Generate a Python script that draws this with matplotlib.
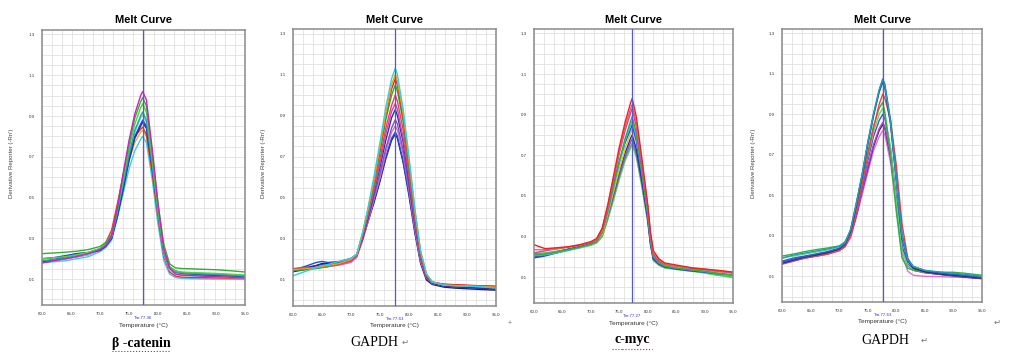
import matplotlib
matplotlib.use('Agg')
import matplotlib.pyplot as plt
from matplotlib.lines import Line2D

plt.rcParams['font.family'] = ['Liberation Sans', 'DejaVu Sans']

W, H = 1023, 352

# ---------------- data ----------------
x_ticks = [60, 65, 70, 75, 80, 85, 90, 95]
x_tick_labels = ['60.0', '65.0', '70.0', '75.0', '80.0', '85.0', '90.0', '95.0']
y_ticks = [0.1, 0.3, 0.5, 0.7, 0.9, 1.1, 1.3]
y_tick_labels = ['0.1', '0.3', '0.5', '0.7', '0.9', '1.1', '1.3']

gene_labels = ['\u03b2 -catenin', 'GAPDH', 'c-myc', 'GAPDH']
tm_values = [77.36, 77.63, 77.27, 77.63]

# Panel 1: beta-catenin
temps_bcat = [60, 62, 64, 66, 68, 70, 71, 72, 73, 74, 75, 76, 77, 77.36, 78, 79, 80, 81, 82, 83, 84, 86, 88, 90, 92, 95]
bcat_magenta = [0.18,0.19,0.20,0.21,0.225,0.245,0.265,0.31,0.45,0.62,0.78,0.91,1.00,1.02,0.98,0.74,0.47,0.25,0.155,0.125,0.12,0.117,0.114,0.112,0.11,0.105]
bcat_green = [0.225,0.228,0.232,0.237,0.245,0.26,0.28,0.32,0.45,0.61,0.76,0.89,0.97,0.99,0.95,0.72,0.47,0.27,0.175,0.155,0.152,0.15,0.148,0.146,0.142,0.135]
bcat_lime = [0.20,0.205,0.21,0.22,0.232,0.25,0.27,0.31,0.44,0.59,0.74,0.86,0.94,0.96,0.92,0.69,0.44,0.24,0.16,0.14,0.135,0.132,0.13,0.128,0.125,0.12]
bcat_teal = [0.19,0.195,0.205,0.215,0.23,0.25,0.27,0.31,0.43,0.57,0.71,0.83,0.90,0.92,0.88,0.66,0.42,0.23,0.155,0.135,0.13,0.127,0.125,0.123,0.12,0.115]
bcat_blue = [0.20,0.205,0.215,0.225,0.228,0.24,0.26,0.30,0.41,0.55,0.69,0.80,0.86,0.88,0.85,0.65,0.42,0.23,0.155,0.135,0.128,0.124,0.12,0.118,0.116,0.112]
bcat_navy = [0.185,0.195,0.21,0.225,0.23,0.245,0.265,0.30,0.41,0.54,0.68,0.79,0.85,0.87,0.84,0.65,0.43,0.24,0.16,0.14,0.132,0.128,0.125,0.122,0.12,0.115]
bcat_red = [0.18,0.19,0.20,0.21,0.22,0.245,0.28,0.34,0.47,0.61,0.72,0.80,0.835,0.845,0.81,0.62,0.40,0.21,0.135,0.115,0.11,0.108,0.107,0.106,0.105,0.105]
bcat_orange = [0.19,0.195,0.20,0.21,0.22,0.24,0.265,0.31,0.43,0.56,0.68,0.77,0.82,0.83,0.80,0.62,0.40,0.22,0.145,0.125,0.12,0.118,0.116,0.115,0.114,0.112]
bcat_cyan = [0.18,0.185,0.19,0.20,0.21,0.235,0.255,0.29,0.40,0.52,0.64,0.73,0.785,0.80,0.77,0.59,0.37,0.19,0.125,0.108,0.104,0.102,0.101,0.10,0.10,0.098]
bcat_lightblue = [0.185,0.19,0.20,0.21,0.22,0.24,0.26,0.30,0.42,0.56,0.70,0.82,0.89,0.905,0.87,0.66,0.42,0.22,0.145,0.125,0.12,0.117,0.115,0.113,0.11,0.105]

# Panel 2: GAPDH (first)
temps_gapdh1 = [60, 62, 64, 65, 66, 68, 70, 71, 72, 73, 74, 75, 76, 77, 77.63, 78, 79, 80, 81, 82, 83, 84, 86, 88, 90, 92, 95]
g1_cyan = [0.12,0.14,0.16,0.17,0.175,0.19,0.205,0.225,0.33,0.46,0.61,0.77,0.94,1.08,1.13,1.10,0.93,0.70,0.45,0.24,0.13,0.09,0.075,0.072,0.07,0.068,0.06]
g1_orange = [0.15,0.155,0.16,0.165,0.17,0.18,0.20,0.225,0.33,0.45,0.59,0.75,0.91,1.05,1.10,1.07,0.91,0.68,0.44,0.24,0.13,0.09,0.075,0.072,0.07,0.068,0.065]
g1_red = [0.15,0.155,0.16,0.165,0.17,0.18,0.20,0.22,0.32,0.45,0.59,0.74,0.90,1.03,1.08,1.05,0.89,0.67,0.43,0.23,0.125,0.09,0.078,0.075,0.072,0.07,0.068]
g1_green = [0.145,0.15,0.155,0.16,0.165,0.18,0.20,0.22,0.32,0.44,0.57,0.72,0.88,1.00,1.05,1.02,0.87,0.65,0.42,0.23,0.125,0.09,0.075,0.072,0.07,0.067,0.063]
g1_red2 = [0.15,0.155,0.16,0.165,0.17,0.18,0.195,0.22,0.31,0.43,0.55,0.69,0.84,0.95,1.00,0.97,0.83,0.62,0.40,0.22,0.12,0.088,0.08,0.077,0.075,0.072,0.07]
g1_magenta = [0.155,0.16,0.16,0.162,0.165,0.175,0.19,0.215,0.31,0.42,0.54,0.67,0.81,0.92,0.96,0.93,0.79,0.60,0.39,0.21,0.12,0.088,0.078,0.075,0.072,0.07,0.067]
g1_navy = [0.15,0.16,0.17,0.175,0.175,0.185,0.20,0.22,0.30,0.41,0.53,0.65,0.78,0.89,0.93,0.90,0.77,0.58,0.38,0.21,0.115,0.085,0.07,0.066,0.063,0.06,0.055]
g1_purple = [0.15,0.155,0.16,0.165,0.17,0.18,0.195,0.22,0.30,0.40,0.51,0.62,0.74,0.84,0.88,0.86,0.73,0.55,0.36,0.20,0.11,0.085,0.07,0.067,0.064,0.062,0.058]
g1_pink = [0.155,0.158,0.16,0.162,0.165,0.172,0.185,0.21,0.29,0.39,0.50,0.60,0.72,0.82,0.85,0.83,0.71,0.54,0.35,0.19,0.11,0.083,0.072,0.07,0.068,0.066,0.063]
g1_blue = [0.15,0.165,0.185,0.19,0.185,0.19,0.205,0.225,0.30,0.39,0.49,0.59,0.70,0.79,0.82,0.80,0.68,0.52,0.34,0.19,0.11,0.083,0.07,0.066,0.063,0.06,0.055]
g1_navy2 = [0.14,0.15,0.17,0.18,0.18,0.185,0.20,0.22,0.30,0.39,0.48,0.58,0.69,0.78,0.81,0.79,0.67,0.51,0.33,0.18,0.10,0.078,0.065,0.06,0.057,0.054,0.05]

# Panel 3: c-myc
temps_myc = [60, 62, 64, 66, 68, 70, 71, 72, 73, 74, 75, 76, 77, 77.27, 78, 79, 80, 80.5, 81, 82, 83, 85, 88, 90, 92, 95]
myc_red = [0.26,0.24,0.245,0.25,0.26,0.275,0.29,0.34,0.46,0.60,0.74,0.86,0.96,0.98,0.89,0.68,0.46,0.32,0.23,0.19,0.17,0.16,0.145,0.14,0.135,0.125]
myc_red2 = [0.235,0.235,0.24,0.248,0.258,0.272,0.285,0.33,0.45,0.59,0.72,0.84,0.93,0.95,0.86,0.66,0.45,0.31,0.22,0.185,0.165,0.155,0.145,0.14,0.132,0.125]
myc_magenta = [0.22,0.23,0.24,0.248,0.256,0.27,0.285,0.33,0.44,0.58,0.71,0.82,0.91,0.93,0.84,0.64,0.44,0.30,0.21,0.18,0.163,0.155,0.143,0.138,0.13,0.122]
myc_green = [0.21,0.215,0.225,0.235,0.248,0.262,0.275,0.32,0.43,0.55,0.67,0.78,0.87,0.89,0.81,0.62,0.42,0.29,0.20,0.17,0.155,0.145,0.135,0.13,0.12,0.11]
myc_cyan = [0.205,0.21,0.22,0.232,0.245,0.26,0.275,0.32,0.42,0.54,0.66,0.77,0.85,0.87,0.79,0.61,0.41,0.28,0.20,0.17,0.155,0.145,0.135,0.128,0.12,0.11]
myc_blue = [0.195,0.205,0.22,0.235,0.25,0.265,0.285,0.34,0.45,0.56,0.67,0.76,0.83,0.85,0.77,0.59,0.40,0.27,0.19,0.165,0.15,0.14,0.13,0.125,0.118,0.11]
myc_yellow = [0.21,0.215,0.225,0.235,0.245,0.26,0.275,0.31,0.41,0.52,0.63,0.73,0.81,0.83,0.77,0.62,0.43,0.30,0.21,0.175,0.16,0.15,0.14,0.132,0.125,0.115]
myc_navy = [0.20,0.21,0.225,0.238,0.25,0.265,0.28,0.32,0.41,0.51,0.62,0.71,0.785,0.80,0.73,0.57,0.39,0.27,0.19,0.165,0.152,0.145,0.135,0.13,0.123,0.115]
myc_purple = [0.21,0.215,0.225,0.235,0.247,0.262,0.275,0.31,0.40,0.50,0.60,0.69,0.765,0.78,0.71,0.56,0.38,0.26,0.19,0.165,0.152,0.145,0.135,0.13,0.122,0.113]
myc_green2 = [0.215,0.22,0.228,0.238,0.248,0.26,0.27,0.30,0.39,0.49,0.59,0.68,0.745,0.76,0.70,0.55,0.38,0.26,0.185,0.16,0.148,0.14,0.13,0.123,0.113,0.10]
myc_lightgreen = [0.20,0.21,0.22,0.232,0.244,0.256,0.268,0.30,0.385,0.48,0.58,0.67,0.735,0.75,0.69,0.54,0.37,0.255,0.18,0.158,0.145,0.138,0.128,0.12,0.11,0.098]

# Panel 4: GAPDH (second)
temps_gapdh2 = [60, 62, 64, 66, 68, 70, 71, 72, 73, 74, 75, 76, 77, 77.63, 78, 79, 80, 81, 82, 83, 85, 88, 90, 92, 95]
g2_teal = [0.19,0.205,0.215,0.225,0.235,0.248,0.265,0.33,0.46,0.60,0.76,0.90,1.02,1.07,1.04,0.86,0.58,0.30,0.18,0.148,0.13,0.12,0.115,0.11,0.10]
g2_blue = [0.17,0.185,0.198,0.21,0.222,0.238,0.26,0.33,0.46,0.60,0.76,0.90,1.02,1.075,1.05,0.87,0.59,0.31,0.185,0.148,0.128,0.115,0.11,0.105,0.095]
g2_navy = [0.165,0.18,0.195,0.205,0.218,0.235,0.258,0.32,0.45,0.59,0.75,0.89,1.01,1.06,1.03,0.85,0.57,0.29,0.175,0.14,0.122,0.11,0.105,0.10,0.09]
g2_red = [0.165,0.18,0.19,0.20,0.21,0.228,0.245,0.30,0.42,0.55,0.70,0.83,0.95,1.00,0.98,0.87,0.65,0.36,0.19,0.14,0.12,0.11,0.105,0.10,0.09]
g2_green = [0.20,0.21,0.222,0.232,0.24,0.25,0.27,0.32,0.44,0.57,0.71,0.84,0.93,0.96,0.91,0.70,0.42,0.19,0.14,0.13,0.122,0.12,0.12,0.115,0.105]
g2_lightgreen = [0.19,0.20,0.21,0.22,0.23,0.245,0.265,0.31,0.43,0.56,0.69,0.81,0.90,0.93,0.90,0.73,0.47,0.23,0.155,0.132,0.12,0.115,0.11,0.105,0.098]
g2_bluemid = [0.175,0.19,0.20,0.21,0.22,0.235,0.26,0.31,0.42,0.54,0.67,0.79,0.87,0.90,0.88,0.73,0.49,0.25,0.16,0.135,0.12,0.11,0.105,0.10,0.092]
g2_magenta = [0.16,0.175,0.19,0.20,0.21,0.228,0.25,0.30,0.40,0.52,0.64,0.75,0.83,0.86,0.84,0.70,0.47,0.24,0.155,0.13,0.118,0.11,0.104,0.098,0.09]
g2_navy2 = [0.165,0.18,0.195,0.205,0.215,0.23,0.255,0.30,0.40,0.52,0.63,0.74,0.82,0.85,0.83,0.69,0.47,0.24,0.155,0.13,0.118,0.108,0.102,0.096,0.088]
g2_pink = [0.16,0.175,0.19,0.20,0.21,0.225,0.245,0.29,0.39,0.50,0.61,0.72,0.79,0.82,0.80,0.66,0.44,0.21,0.125,0.105,0.10,0.098,0.096,0.094,0.09]

panels = [
    (temps_bcat, [(bcat_cyan, '#40c8f0'), (bcat_orange, '#f0b020'), (bcat_red, '#f03030'),
                  (bcat_lightblue, '#80c8f0'), (bcat_navy, '#2a2a90'), (bcat_blue, '#2040e0'),
                  (bcat_teal, '#20a8a0'), (bcat_lime, '#50d040'), (bcat_green, '#30b030'),
                  (bcat_magenta, '#d020c0')]),
    (temps_gapdh1, [(g1_navy2, '#202070'), (g1_blue, '#2050e0'), (g1_pink, '#e070c0'),
                    (g1_purple, '#8050c0'), (g1_navy, '#3030a0'), (g1_magenta, '#d040c0'),
                    (g1_red2, '#e84060'), (g1_green, '#20b040'), (g1_red, '#f02020'),
                    (g1_orange, '#f0a000'), (g1_cyan, '#30d0e0')]),
    (temps_myc, [(myc_lightgreen, '#80d080'), (myc_green2, '#50c050'), (myc_purple, '#8060c0'),
                 (myc_navy, '#303090'), (myc_yellow, '#e8c020'), (myc_blue, '#3040e0'),
                 (myc_cyan, '#30c0d0'), (myc_green, '#30b030'), (myc_magenta, '#c040c0'),
                 (myc_red2, '#f06060'), (myc_red, '#f02020')]),
    (temps_gapdh2, [(g2_pink, '#e070d0'), (g2_navy2, '#302070'), (g2_magenta, '#c040c0'),
                    (g2_bluemid, '#4050e0'), (g2_lightgreen, '#70d070'), (g2_green, '#30b040'),
                    (g2_red, '#f04040'), (g2_navy, '#203080'), (g2_blue, '#2060d0'),
                    (g2_teal, '#20a0b0')]),
]

# ---------------- layout ----------------
fig = plt.figure(figsize=(W / 100, H / 100), dpi=100)
fig.patch.set_facecolor('white')

def fx(x):
    return x / W

def fy(y):
    return 1 - y / H

# (left, right, top, bottom) in pixels
boxes = [(42, 245, 30, 305), (293, 496, 29, 306), (534, 733, 29, 303), (782, 982, 29, 302)]
ylabel_x = [12, 264, None, 754]

for i, ((temps, curves), (l, r, t, b)) in enumerate(zip(panels, boxes)):
    ax = fig.add_axes([fx(l), fy(b), (r - l) / W, (b - t) / H])
    ax.set_xlim(60, 95)
    ax.set_ylim(-0.027, 1.322)
    gx = [60 + k * 1.75 for k in range(21)]
    gy = [k * 0.05 for k in range(27)]
    for g in gx:
        ax.axvline(g, color='#dcdcdc', lw=0.5, zorder=0)
    for g in gy:
        ax.axhline(g, color='#dcdcdc', lw=0.5, zorder=0)
    for vals, col in curves:
        ax.plot(temps, vals, color=col, lw=1.0, zorder=2, solid_joinstyle='round')
    ax.axvline(tm_values[i], color='#5858c8', lw=0.9, zorder=3)
    ax.set_xticks(x_ticks)
    ax.set_xticklabels(x_tick_labels, fontsize=3.2, color='#333333')
    ax.set_yticks(y_ticks)
    ax.set_yticklabels(y_tick_labels, fontsize=3.2, color='#333333')
    ax.tick_params(length=0, pad=5)
    for s in ax.spines.values():
        s.set_color('#8a8a8a')
        s.set_linewidth(1.1)
    cx = (l + r) / 2
    fig.text(fx(cx), fy(20), 'Melt Curve', ha='center', va='center', fontsize=8, fontweight='bold')
    fig.text(fx(l + (tm_values[i] - 60) / 35 * (r - l)), fy(b + 13), 'Tm:%.2f' % tm_values[i],
             ha='center', va='center', fontsize=3.2, color='#3030c0')
    fig.text(fx(cx), fy(b + 20), 'Temperature (\u00b0C)', ha='center', va='center', fontsize=4.6, color='#333333')
    if ylabel_x[i] is not None:
        fig.text(fx(ylabel_x[i]), fy(163), "Derivative Reporter (-Rn')", rotation=90,
                 ha='center', va='center', fontsize=4.4, color='#444444')

# bottom gene labels
serif = ['Liberation Serif', 'DejaVu Serif']
fig.text(fx(141), fy(343), gene_labels[0], ha='center', va='center', fontsize=10, family=serif, fontweight='bold')
fig.text(fx(374), fy(342), gene_labels[1], ha='center', va='center', fontsize=10, family=serif)
fig.text(fx(632), fy(340), gene_labels[2], ha='center', va='center', fontsize=10, family=serif, fontweight='bold')
fig.text(fx(885), fy(340), gene_labels[3], ha='center', va='center', fontsize=10, family=serif)
# paragraph / editing marks
fig.text(fx(405), fy(342), '\u21b5', ha='center', va='center', fontsize=6, color='#777777', family=['DejaVu Sans'])
fig.text(fx(924), fy(340), '\u21b5', ha='center', va='center', fontsize=6, color='#777777', family=['DejaVu Sans'])
fig.text(fx(997), fy(322), '\u21b5', ha='center', va='center', fontsize=6, color='#777777', family=['DejaVu Sans'])
fig.text(fx(510), fy(324), '+', ha='center', va='center', fontsize=5, color='#777777')

# spell-check underlines
fig.add_artist(Line2D([fx(112), fx(170)], [fy(351), fy(351)], color='#3050c0', lw=0.8, ls=':'))
fig.add_artist(Line2D([fx(612), fx(622)], [fy(349), fy(349)], color='#3050c0', lw=0.8, ls=':'))
fig.add_artist(Line2D([fx(622), fx(652)], [fy(349), fy(349)], color='#d02020', lw=0.8, ls=':'))

fig.savefig('out.png', dpi=100)
